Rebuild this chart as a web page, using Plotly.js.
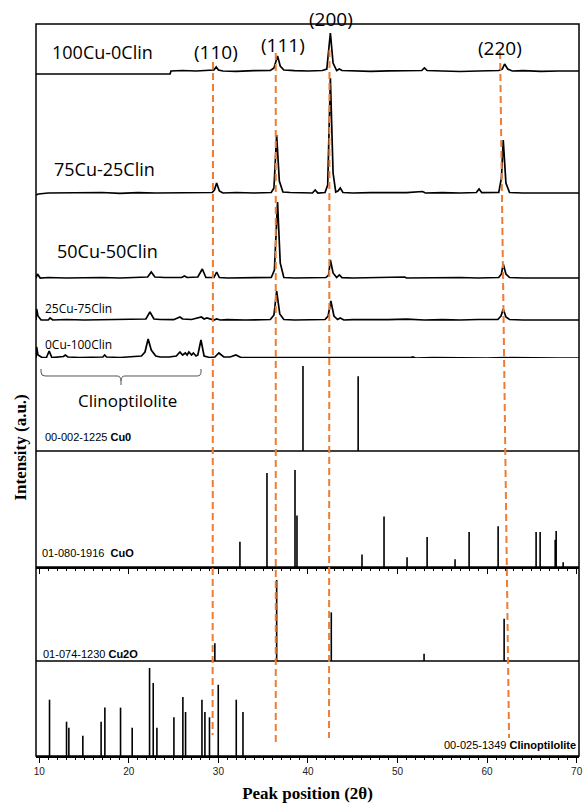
<!DOCTYPE html>
<html>
<head>
<meta charset="utf-8">
<script src="https://cdn.plot.ly/plotly-3.0.1.min.js"></script>
<style>html,body{margin:0;padding:0;background:#fff;}#chart{width:583px;height:803px;}</style>
</head>
<body>
<div id="chart"></div>
<script>
// ---------------- DATA ----------------
// Experimental XRD patterns (2θ, intensity above each pattern's own baseline, a.u.)
const sampleNames = ['100Cu-0Clin', '75Cu-25Clin', '50Cu-50Clin', '25Cu-75Clin', '0Cu-100Clin'];

const x100 = [9.63, 24.6, 24.7, 26, 27.5, 29.2, 29.5, 29.75, 30.0, 30.5, 32, 34, 35.8, 36.2, 36.6, 36.9, 37.3, 38.5, 40, 41.6, 42.1, 42.5, 42.8, 43.2, 43.5, 43.8, 45, 47, 49, 51, 52.7, 53.0, 53.3, 55, 57, 59, 61.3, 61.7, 61.95, 62.3, 62.8, 64, 66, 68, 70.26];
const y100 = [-3, -3, 0, 0.5, 0, 0.3, 1, 4, 1, 0, -0.3, 0.3, 0.5, 3, 15, 5, 1, 0.3, 0, 0.5, 2, 38, 8, 0.5, 2, 0.5, 0, -0.3, 0.2, 0, 0.5, 3, 0.5, 0, -0.5, 0, 0.5, 2, 7, 2, 0, 0.3, -0.3, 0, 0];

const x75 = [9.63, 9.9, 11, 13, 15, 17, 19, 21, 23, 25, 27, 29.3, 29.55, 29.8, 30.1, 30.5, 32, 34, 35.9, 36.2, 36.5, 36.8, 37.2, 38, 40.5, 40.8, 41.1, 41.9, 42.2, 42.5, 42.8, 43.1, 43.35, 43.6, 43.9, 45, 47, 49, 51, 52.8, 53.1, 55, 57, 58.8, 59.1, 59.4, 60.5, 61.3, 61.6, 61.8, 62.1, 62.5, 64, 66, 68, 70.26];
const y75 = [-2, -1, 0, 0.3, 0, 0.5, -0.3, 0.3, 0, 0.3, 0, 0.5, 3, 10, 2, 0, 0.5, 0, 0.5, 5, 58, 12, 1, 0.5, 0, 3, 0, 0.5, 8, 115, 20, 1, 2, 5, 0.5, 0, 0.3, 0, 0.3, 1.5, 0, 0.3, 0, 0.5, 4, 0.3, 0, 0.5, 15, 53, 10, 0.5, 0, 0.3, 0, 0];

const x50 = [9.63, 9.8, 10.1, 11, 13, 15, 17, 19, 21, 22.1, 22.5, 22.9, 24, 25.9, 26.2, 26.5, 27.7, 28.2, 28.6, 29.5, 29.8, 30.1, 31, 33, 35.9, 36.25, 36.6, 36.9, 37.3, 38.5, 40, 42.0, 42.3, 42.5, 42.8, 43.2, 43.5, 43.8, 45, 47, 49, 50.8, 51, 53, 55, 57, 59, 61.3, 61.6, 61.8, 62.1, 62.5, 64, 66, 68, 70.26];
const y50 = [0, 4, 0, 0.5, 0, 0.3, 0.5, 0, 0.5, 1, 6, 1, 0.5, 0.5, 2, 0.5, 1, 9, 0.5, 0.5, 6, 0.5, 0, 0.3, 0.5, 8, 76, 15, 0.5, 0, 0.3, 0.5, 3, 18, 5, 0.5, 3, 0.3, 0, 0.3, 0, 1, 0, 0.3, 0, 0.5, 0, 0.5, 4, 14, 4, 0.5, 0, 0.3, 0, 0];

const x25 = [9.63, 9.7, 9.85, 10.2, 11.0, 11.2, 11.5, 13, 15, 17, 19, 21, 21.9, 22.35, 22.8, 23.5, 25, 25.7, 26.0, 27, 27.9, 28.1, 28.4, 28.7, 29.5, 29.8, 30.2, 31, 33, 35.8, 36.2, 36.5, 36.85, 37.3, 38.5, 40, 41.9, 42.25, 42.55, 42.9, 43.3, 43.6, 44, 45, 47, 49, 51, 53, 55, 57, 59, 61.2, 61.55, 61.8, 62.1, 62.5, 64, 66, 68, 70.26];
const y25 = [0, 11, 4, 0, 0, 2, 0, 0.5, 0, 0.3, 0, 0.5, 1, 8, 1, 0.5, 0.3, 3, 1, 0.5, 2, 3, 1, 2, 0, 1, 0, 0.3, 0, 0.5, 5, 29, 6, 0.5, 0, 0.3, 0.5, 4, 19, 4, 0.5, 2, 0, 0.3, 0, 0.3, 0.8, 0, 0.3, 0, 0.5, 0.5, 4, 11, 3, 0.5, 0, 0.3, 0, 0];

const x0 = [9.63, 9.7, 9.85, 10.3, 10.8, 11.1, 11.4, 12, 12.7, 12.9, 13.2, 14.5, 16, 17.1, 17.3, 17.5, 19, 20.5, 21.4, 21.8, 22.15, 22.5, 23.0, 23.5, 24.5, 25.3, 25.7, 26.0, 26.3, 26.5, 26.7, 27.0, 27.2, 27.5, 27.7, 28.05, 28.4, 29.0, 29.6, 30.05, 30.6, 31.3, 31.95, 32.5, 33.5, 35, 37, 39, 41, 43, 45, 47, 49, 51.4, 51.7, 52, 54, 56, 58, 60, 62, 64, 66, 68, 70.26];
const y0 = [0, 11, 3, 0.5, 0.5, 7, 0.5, 1, 1.5, 3, 1, 0.5, 0.5, 1, 3, 1, 0.5, 1, 2, 6, 19, 8, 2, 1, 1, 2, 6, 3, 5, 3, 6, 3, 5, 2, 3, 18, 2, 0.5, 1, 5, 1, 1, 3, 0.5, 0.5, 0.3, 0, 0.3, 0, 0.3, 0, 0.3, 0, 0.3, 1, 0, 0.3, 0, 0.3, 0, 0.3, 0, 0.3, 0, 0];

// Reference patterns (stick positions 2θ, relative intensity %)
const cu0Pos = [39.44, 45.6];
const cu0Int = [100, 88];

const cuoPos = [32.40, 35.42, 38.55, 38.77, 46.03, 48.49, 51.06, 53.30, 56.42, 57.99, 61.23, 65.47, 65.92, 67.60, 67.71, 68.49];
const cuoInt = [26, 97, 100, 53, 13, 52, 10, 31, 8, 36, 42, 36, 36, 28, 37, 5];

const cu2oPos = [29.6, 36.5, 42.6, 52.96, 61.9];
const cu2oInt = [22, 100, 60, 9, 52];

const clinoPos = [11.14, 13.04, 13.3, 14.86, 16.9, 17.32, 19.07, 20.37, 22.31, 22.72, 23.13, 25.03, 26.03, 26.33, 28.16, 28.49, 29.0, 29.98, 31.99, 32.74];
const clinoInt = [64, 39, 32, 23, 39, 55, 55, 32, 100, 83, 32, 44, 67, 50, 64, 50, 44, 81, 64, 50];

// Miller indices of Cu and guide-line positions (2θ at top / bottom)
const hklLabels = ['(110)', '(111)', '(200)', '(220)'];
const hklTop = [29.4, 36.4, 42.4, 61.45];
const hklBottom = [29.35, 36.4, 42.35, 62.45];

const xTickVals = [10, 20, 30, 40, 50, 60, 70];

// ---------------- LAYOUT HELPERS ----------------
const H = 732, TOP = 24, W = 543, LEFT = 36;
const py = p => (TOP + H - p) / H;     // pixel row -> paper y
const pxp = p => (p - LEFT) / W;       // pixel col -> paper x

const sampleX = [x100, x75, x50, x25, x0];
const sampleY = [y100, y75, y50, y25, y0];
const sampleOffset = [287, 165, 80, 38, 0];

const traces = [];
sampleX.forEach((xs, i) => {
  traces.push({
    type: 'scatter', mode: 'lines', x: xs,
    y: sampleY[i].map(v => v + sampleOffset[i]),
    xaxis: 'x', yaxis: 'y', name: sampleNames[i],
    line: {color: '#000', width: 1.7}, hoverinfo: 'skip'
  });
});

function sticks(pos, inten, xa, ya) {
  const xs = [], ys = [];
  pos.forEach((p, i) => { xs.push(p, p, null); ys.push(0, inten[i], null); });
  return {type: 'scatter', mode: 'lines', x: xs, y: ys, xaxis: xa, yaxis: ya,
          line: {color: '#000', width: 1.6}, hoverinfo: 'skip', connectgaps: false};
}
traces.push(sticks(cu0Pos, cu0Int, 'x', 'y2'));
traces.push(sticks(cuoPos, cuoInt, 'x2', 'y3'));
traces.push(sticks(cu2oPos, cu2oInt, 'x', 'y4'));
traces.push(sticks(clinoPos, clinoInt, 'x', 'y5'));

const xRange = [9.63, 70.26];
const hiddenY = {showticklabels: false, showgrid: false, zeroline: false, showline: false, ticks: ''};

const annFontCal = (s) => ({family: 'Open Sans, Noto Sans, sans-serif', size: s, color: '#000'});
const annFontAr = {family: 'Liberation Sans, Arial, sans-serif', size: 11, color: '#000'};

const annotations = [];
function ann(text, xpix, ypix, anchor, font, extra) {
  annotations.push(Object.assign({text, xref: 'paper', yref: 'paper', x: pxp(xpix), y: py(ypix),
    xanchor: anchor, yanchor: 'middle', showarrow: false, font}, extra || {}));
}
ann(sampleNames[0], 50, 52, 'left', annFontCal(18));
ann(sampleNames[1], 52, 169, 'left', annFontCal(18));
ann(sampleNames[2], 55, 251, 'left', annFontCal(18));
ann(sampleNames[3], 43, 308, 'left', annFontCal(12));
ann(sampleNames[4], 43, 344, 'left', annFontCal(12));
ann('Clinoptilolite', 127, 400, 'center', annFontCal(17));
ann('00-002-1225 <b>Cu0</b>', 43, 437.5, 'left', annFontAr);
ann('01-080-1916  <b>CuO</b>', 40, 553, 'left', annFontAr);
ann('01-074-1230 <b>Cu2O</b>', 41, 654, 'left', annFontAr);
ann('00-025-1349 <b>Clinoptilolite</b>', 578, 745, 'right', annFontAr);
ann('<b>Intensity (a.u.)</b>', 19.5, 448, 'center',
    {family: 'Liberation Serif, Times New Roman, serif', size: 17, color: '#000'}, {textangle: -90});

// Miller index labels
const hklLabelX = [29.73, 37.21, 42.57, 61.44];
const hklLabelYpx = [52, 45, 19, 48];
hklLabels.forEach((t, i) => {
  annotations.push({text: t, xref: 'x', yref: 'paper', x: hklLabelX[i], y: py(hklLabelYpx[i]),
    xanchor: 'center', yanchor: 'middle', showarrow: false, font: annFontCal(19)});
});

const shapes = [];
// panel frame and separators
shapes.push({type: 'rect', xref: 'paper', yref: 'paper', x0: 0, x1: 1, y0: 0, y1: 1,
             line: {color: '#000', width: 1.5}});
[451, 567, 661].forEach(p => shapes.push({type: 'line', xref: 'paper', yref: 'paper',
  x0: 0, x1: 1, y0: py(p), y1: py(p), line: {color: '#000', width: 1.5}}));
// orange dashed guide lines
const hklTopPx = [62, 53, 50, 52];
const hklBotPx = [735, 742, 738, 738];
hklTop.forEach((t, i) => shapes.push({type: 'line', xref: 'x', yref: 'paper',
  x0: t, x1: hklBottom[i], y0: py(hklTopPx[i]), y1: py(hklBotPx[i]),
  line: {color: '#ED7D31', width: 2, dash: '7px,4px'}}));
// brace under clinoptilolite peaks
const P = (a, b) => pxp(a).toFixed(5) + ',' + py(b).toFixed(5);
const bracePath = 'M' + P(41, 369) + ' L' + P(41, 372) + ' Q' + P(41, 376) + ' ' + P(45, 376) +
  ' L' + P(117, 376) + ' Q' + P(121, 376) + ' ' + P(121, 381) + ' L' + P(121, 385) +
  ' M' + P(121, 381) + ' Q' + P(121, 376) + ' ' + P(125, 376) + ' L' + P(197, 376) +
  ' Q' + P(201, 376) + ' ' + P(201, 372) + ' L' + P(201, 369);
shapes.push({type: 'path', xref: 'paper', yref: 'paper', path: bracePath,
             line: {color: '#555', width: 1}});

const layout = {
  width: 583, height: 803,
  margin: {l: 36, r: 4, t: 24, b: 47, pad: 0},
  paper_bgcolor: '#fff', plot_bgcolor: '#fff',
  showlegend: false,
  xaxis: {
    range: xRange, anchor: 'y5', showgrid: false, zeroline: false,
    showline: true, linecolor: '#000', linewidth: 1.5,
    ticks: 'outside', ticklen: 5, tickwidth: 1, tickcolor: '#000',
    tickvals: xTickVals, ticktext: xTickVals.map(String),
    tickfont: {family: 'Liberation Sans, Arial, sans-serif', size: 10, color: '#222'},
    minor: {dtick: 1, tick0: 10, ticks: 'outside', ticklen: 2.5, tickwidth: 1, tickcolor: '#000', showgrid: false},
    title: {text: '<b>Peak position (2θ)</b>', standoff: 14,
            font: {family: 'Liberation Serif, Times New Roman, serif', size: 17, color: '#000'}}
  },
  xaxis2: {
    range: xRange, matches: 'x', anchor: 'y3', showgrid: false, zeroline: false,
    showline: true, linecolor: '#000', linewidth: 1.5, showticklabels: false,
    ticks: 'outside', ticklen: 5, tickwidth: 1, tickcolor: '#000', tickvals: xTickVals,
    minor: {dtick: 1, tick0: 10, ticks: 'outside', ticklen: 2.5, tickwidth: 1, tickcolor: '#000', showgrid: false}
  },
  yaxis: Object.assign({domain: [py(451), 1], range: [-93, 334]}, hiddenY),
  yaxis2: Object.assign({domain: [py(451), py(358)], range: [0, 109.4]}, hiddenY),
  yaxis3: Object.assign({domain: [py(567), py(451)], range: [0, 119.6]}, hiddenY),
  yaxis4: Object.assign({domain: [py(661), py(567)], range: [0, 116]}, hiddenY),
  yaxis5: Object.assign({domain: [0, py(661)], range: [0, 108]}, hiddenY),
  annotations, shapes
};

Plotly.newPlot('chart', traces, layout, {displayModeBar: false, staticPlot: true});
</script>
</body>
</html>
